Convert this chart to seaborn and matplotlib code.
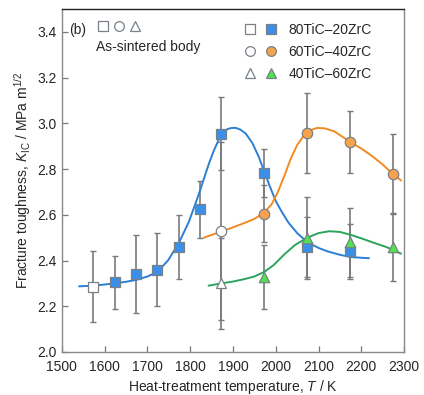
import numpy as np
import pandas as pd
import matplotlib
matplotlib.use('Agg')
import matplotlib.pyplot as plt
from matplotlib.lines import Line2D
from matplotlib.legend_handler import HandlerTuple
import seaborn as sns

# measured points (temperature in K, fracture toughness in MPa m^1/2)
T_80 = [1623, 1673, 1723, 1773, 1823, 1873, 1973, 2073, 2173]
K_80 = [2.305, 2.34, 2.36, 2.46, 2.625, 2.955, 2.785, 2.46, 2.44]
err_80 = [0.115, 0.17, 0.16, 0.14, 0.125, 0.16, 0.105, 0.13, 0.12]

T_60 = [1973, 2073, 2173, 2273]
K_60 = [2.605, 2.96, 2.92, 2.78]
err_60 = [0.125, 0.175, 0.135, 0.175]

T_40 = [1973, 2073, 2173, 2273]
K_40 = [2.33, 2.50, 2.48, 2.46]
err_40 = [0.14, 0.18, 0.15, 0.15]

# as-sintered bodies (open symbols)
T_as = [1573, 1873, 1873]
K_as = [2.285, 2.53, 2.30]
err_as = [0.155, 0.39, 0.20]
marker_as = ['s', 'o', '^']

# guide curves
curve_T_80 = [1540, 1573, 1600, 1623, 1650, 1673, 1700, 1723, 1748, 1773, 1797, 1820,
              1843, 1855, 1867, 1877, 1887, 1897, 1907, 1917, 1930, 1945, 1960, 1973,
              1985, 2000, 2015, 2030, 2050, 2074, 2100, 2121, 2150, 2176, 2218]
curve_K_80 = [2.287, 2.29, 2.295, 2.30, 2.307, 2.315, 2.33, 2.35, 2.40, 2.475, 2.57, 2.69,
              2.82, 2.88, 2.93, 2.958, 2.975, 2.98, 2.98, 2.973, 2.955, 2.915, 2.855, 2.79,
              2.73, 2.66, 2.61, 2.565, 2.52, 2.48, 2.455, 2.44, 2.425, 2.415, 2.41]
curve_T_60 = [1832, 1873, 1900, 1925, 1950, 1973, 1990, 2005, 2020, 2035, 2050, 2065,
              2080, 2097, 2115, 2137, 2173, 2200, 2223, 2250, 2273, 2293]
curve_K_60 = [2.50, 2.527, 2.545, 2.563, 2.582, 2.61, 2.645, 2.70, 2.77, 2.845, 2.905, 2.945,
              2.97, 2.98, 2.978, 2.965, 2.92, 2.89, 2.86, 2.82, 2.78, 2.75]
curve_T_40 = [1843, 1873, 1900, 1925, 1950, 1973, 1995, 2019, 2045, 2074, 2100, 2125,
              2150, 2176, 2200, 2230, 2260, 2293]
curve_K_40 = [2.29, 2.30, 2.308, 2.318, 2.33, 2.35, 2.38, 2.425, 2.468, 2.50, 2.52, 2.528,
              2.525, 2.512, 2.497, 2.477, 2.458, 2.43]

names = ['80TiC\u201320ZrC', '60TiC\u201340ZrC', '40TiC\u201360ZrC']
x_ticks = [1500, 1600, 1700, 1800, 1900, 2000, 2100, 2200, 2300]
y_ticks = [2.0, 2.2, 2.4, 2.6, 2.8, 3.0, 3.2, 3.4]

sns.set_style('ticks')
plt.rcParams['font.family'] = ['Liberation Sans', 'DejaVu Sans']
plt.rcParams['mathtext.fontset'] = 'custom'
plt.rcParams['mathtext.rm'] = 'Liberation Sans'
plt.rcParams['mathtext.it'] = 'Liberation Sans:italic'
fs = 10
plt.rcParams['font.size'] = fs

line_cols = ['#2b7fd6', '#f28a22', '#2ca45a']
face_cols = ['#3a8fe8', '#f7a24c', '#4ee44e']
edge_col = '#7a8088'
err_col = '#7a7a7a'

fig = plt.figure(figsize=(4.24, 3.95), dpi=100)
ax = fig.add_axes([0.146, 0.109, 0.807, 0.868])

# curves
curves = pd.concat([
    pd.DataFrame({'T': curve_T_80, 'K': curve_K_80, 'alloy': names[0]}),
    pd.DataFrame({'T': curve_T_60, 'K': curve_K_60, 'alloy': names[1]}),
    pd.DataFrame({'T': curve_T_40, 'K': curve_K_40, 'alloy': names[2]}),
])
sns.lineplot(data=curves, x='T', y='K', hue='alloy', palette=line_cols, sort=False,
             estimator=None, lw=1.4, legend=False, ax=ax, zorder=2)

# error bars
for T, K, e in [(T_as, K_as, err_as), (T_80, K_80, err_80),
                (T_60, K_60, err_60), (T_40, K_40, err_40)]:
    ax.errorbar(T, K, yerr=e, fmt='none', ecolor=err_col, elinewidth=1.2,
                capsize=2.5, capthick=1.0, zorder=1)

# filled symbols
ms = 7.5
for T, K, m, c in [(T_80, K_80, 's', face_cols[0]), (T_60, K_60, 'o', face_cols[1]),
                   (T_40, K_40, '^', face_cols[2])]:
    sns.scatterplot(x=T, y=K, marker=m, s=ms ** 2, color=c, edgecolor=edge_col,
                    linewidth=0.9, ax=ax, zorder=4, legend=False)

# open symbols (as-sintered)
for T, K, m in zip(T_as, K_as, marker_as):
    ax.plot([T], [K], marker=m, ms=ms, mfc='white', mec=edge_col, mew=0.9,
            ls='none', zorder=4)

ax.set_xlim(1500, 2300)
ax.set_ylim(2.0, 3.5)
ax.set_xticks(x_ticks)
ax.set_yticks(y_ticks)
ax.set_yticklabels([f'{v:.1f}' for v in y_ticks])
ax.tick_params(direction='in', length=4, width=0.9, color='#777777', labelsize=fs)
ax.tick_params(axis='x', pad=6)
ax.tick_params(axis='y', pad=4)
for s in ['left', 'right', 'bottom']:
    ax.spines[s].set_color('#888888')
    ax.spines[s].set_linewidth(1.0)
ax.spines['top'].set_color('#222222')
ax.spines['top'].set_linewidth(1.0)

ax.set_xlabel('Heat-treatment temperature, $\\mathit{T}$ / K', fontsize=fs, labelpad=3)
ax.set_ylabel('Fracture toughness, $\\mathit{K}_{\\mathrm{IC}}$ / MPa m$^{1/2}$',
              fontsize=fs, labelpad=3)

# legend: open + filled symbol per composition
def mk(m, face):
    return Line2D([], [], marker=m, ls='none', ms=ms - 0.5, mfc=face, mec=edge_col, mew=0.9)

handles = [(mk('s', 'white'), mk('s', face_cols[0])),
           (mk('o', 'white'), mk('o', face_cols[1])),
           (mk('^', 'white'), mk('^', face_cols[2]))]
leg = ax.legend(handles, names, handler_map={tuple: HandlerTuple(ndivide=None, pad=0.8)},
                loc='upper left', bbox_to_anchor=(0.5, 0.997), frameon=False, fontsize=fs,
                handlelength=2.2, handletextpad=0.9, labelspacing=0.6)
ax.add_artist(leg)

ax.legend([(mk('s', 'white'), mk('o', 'white'), mk('^', 'white'))], [''],
          handler_map={tuple: HandlerTuple(ndivide=None, pad=0.45)},
          loc='upper left', bbox_to_anchor=(0.07, 1.005), frameon=False, fontsize=fs,
          handlelength=3.0, handletextpad=0)
ax.text(0.022, 0.94, '(b)', transform=ax.transAxes, fontsize=fs, va='center')
ax.text(0.1, 0.888, 'As-sintered body', transform=ax.transAxes, fontsize=fs, va='center')

fig.savefig('out.png', dpi=100)
